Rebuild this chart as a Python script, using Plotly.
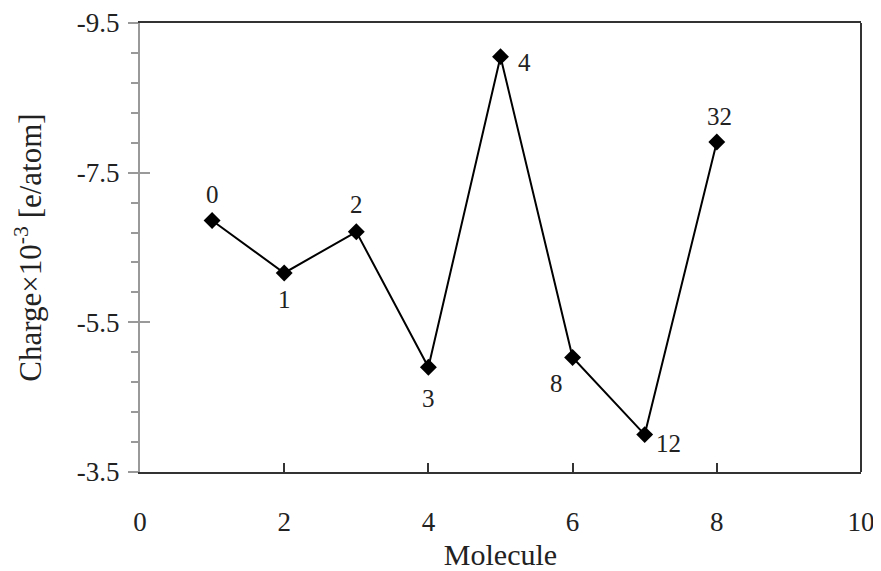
import plotly.graph_objects as go

molecule = [1, 2, 3, 4, 5, 6, 7, 8]
charge = [-6.86, -6.16, -6.71, -4.90, -9.05, -5.03, -4.00, -7.91]
labels = ["0", "1", "2", "3", "4", "8", "12", "32"]
label_dx = [0, 0, 0, 0, 24, -16, 24, 3]
label_dy = [26, -27, 27, -31, -6, -26, -9, 25]

x_ticks = [0, 2, 4, 6, 8, 10]
y_ticks = [-9.5, -7.5, -5.5, -3.5]
y_ticktext = ["-9.5", "-7.5", "-5.5", "-3.5"]

FONT = "Liberation Serif"
TXT = "#222222"

fig = go.Figure()
fig.add_trace(go.Scatter(
    x=molecule, y=charge, mode="lines+markers",
    line=dict(color="black", width=2),
    marker=dict(symbol="diamond", size=13, color="black"),
    showlegend=False, cliponaxis=False,
))
fig.add_trace(go.Scatter(x=[None], y=[None], yaxis="y2", showlegend=False))

for xv, yv, t, dx, dy in zip(molecule, charge, labels, label_dx, label_dy):
    fig.add_annotation(x=xv, y=yv, text=t, showarrow=False, xshift=dx, yshift=dy,
                       xanchor="center", yanchor="middle",
                       font=dict(family=FONT, size=25, color=TXT))

# page body has an 8px margin, so the figure is shrunk and shifted to compensate
fig.update_layout(
    width=873, height=563,
    margin=dict(l=132, r=20, t=15, b=99, autoexpand=False),
    paper_bgcolor="white", plot_bgcolor="white",
    font=dict(family=FONT, size=26, color=TXT),
    xaxis=dict(
        range=[0, 10], tickvals=x_ticks, ticks="inside", ticklen=9, tickwidth=2,
        tickcolor="#333333", showline=True, linecolor="#333333", linewidth=2,
        mirror=True, showgrid=False, zeroline=False, automargin=False,
        ticklabelstandoff=25,
        tickfont=dict(family=FONT, size=27, color=TXT),
        title=dict(text="Molecule", font=dict(family=FONT, size=30, color=TXT), standoff=8),
    ),
    yaxis=dict(
        range=[-3.5, -9.5], tickvals=y_ticks, ticktext=y_ticktext,
        ticks="outside", ticklen=10, tickwidth=2, tickcolor="#999999",
        showline=True, linecolor="#999999", linewidth=2,
        showgrid=False, zeroline=False, automargin=False,
        minor=dict(dtick=0.4, tick0=-9.5, ticks="outside", ticklen=7, tickwidth=2, tickcolor="#999999"),
        ticklabelstandoff=3,
        tickfont=dict(family=FONT, size=27, color=TXT),
        title=dict(text="Charge×10<sup>-3</sup> [e/atom]", font=dict(family=FONT, size=31, color=TXT), standoff=26),
    ),
    yaxis2=dict(
        overlaying="y", side="left", range=[-3.5, -9.5], tickvals=y_ticks,
        ticks="inside", ticklen=10, tickwidth=2, tickcolor="#999999",
        showticklabels=False, showgrid=False, zeroline=False, showline=False,
    ),
    shapes=[dict(type="line", xref="x domain", yref="y domain", x0=1, x1=1, y0=0, y1=1,
                 line=dict(color="#333333", width=2))],
)

fig.write_html("out.html")
